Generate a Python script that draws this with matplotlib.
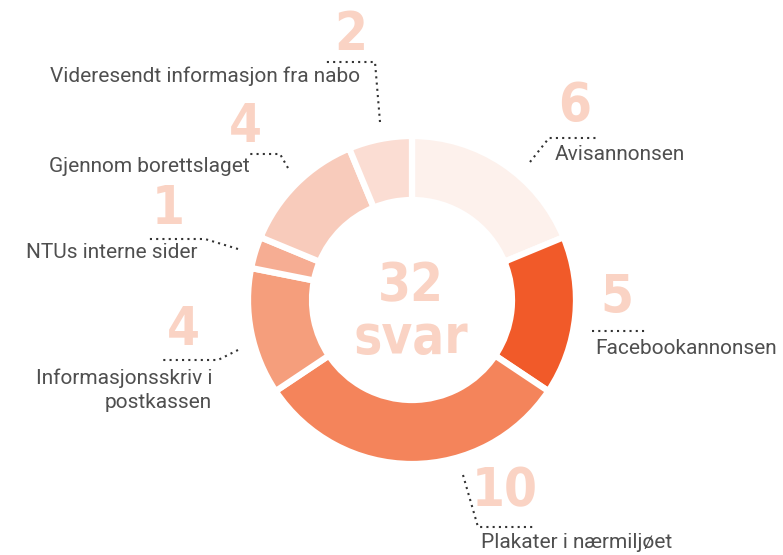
import matplotlib
matplotlib.use("Agg")
import matplotlib.pyplot as plt

# ---- data ----
categories = ["Avisannonsen", "Facebookannonsen", "Plakater i nærmiljøet",
              "Informasjonsskriv i\npostkassen", "NTUs interne sider",
              "Gjennom borettslaget", "Videresendt informasjon fra nabo"]
values = [6, 5, 10, 4, 1, 4, 2]
colors = ["#fdf1ec", "#f15a29", "#f4845b", "#f59e7c", "#f6ad93", "#f8cbbb", "#fbddd3"]
total_label = "32"
total_word = "svar"

W, H = 783, 555
fig = plt.figure(figsize=(W / 100, H / 100), dpi=100)
ax = fig.add_axes([0, 0, 1, 1])

def P(x, y):
    return (x, H - y)

cx, cy = P(412, 300)
ax.pie(values, colors=colors, startangle=90, counterclock=False, radius=164,
       center=(cx, cy),
       wedgeprops=dict(width=64, edgecolor="white", linewidth=4.5))
ax.set_xlim(0, W)
ax.set_ylim(0, H)
ax.set_aspect("equal")
ax.axis("off")

num_color = "#fad3c4"
txt_color = "#4f4f4f"
num_font = dict(family=["DejaVu Sans"], fontstretch="condensed", fontweight="bold",
                fontsize=38, color=num_color, ha="center", va="center")
lab_font = dict(family=["Roboto", "DejaVu Sans"], fontsize=15, color=txt_color)

# label layout: (number pos, text pos, ha, leader points)
layout = [
    ((575, 106), (555, 155), "left", [(530, 162), (549, 138), (598, 138)]),
    ((617, 298), (595, 348), "left", [(592, 331), (648, 331)]),
    ((505, 491), (481, 543), "left", [(463, 475), (478, 527), (535, 527)]),
    ((183, 330), (212, 390), "right", [(238, 350), (218, 360), (160, 360)]),
    ((168, 209), (197, 252), "right", [(238, 249), (205, 239), (146, 239)]),
    ((245, 127), (250, 167), "right", [(288, 168), (280, 154), (247, 154)]),
    ((351, 35), (360, 76), "right", [(380, 122), (375, 62), (323, 62)]),
]

for val, cat, (npos, tpos, ha, pts) in zip(values, categories, layout):
    ax.text(*P(*npos), str(val), **num_font)
    ax.text(*P(*tpos), cat, ha=ha, va="center", linespacing=1.3, **lab_font)
    xs = [p[0] for p in pts]
    ys = [H - p[1] for p in pts]
    ax.plot(xs, ys, color="#333333", linestyle=(0, (1, 2)), linewidth=1.5)

ax.text(*P(411, 286), total_label, **num_font)
ax.text(*P(411, 338), total_word, **num_font)

fig.savefig("out.png", dpi=100)
